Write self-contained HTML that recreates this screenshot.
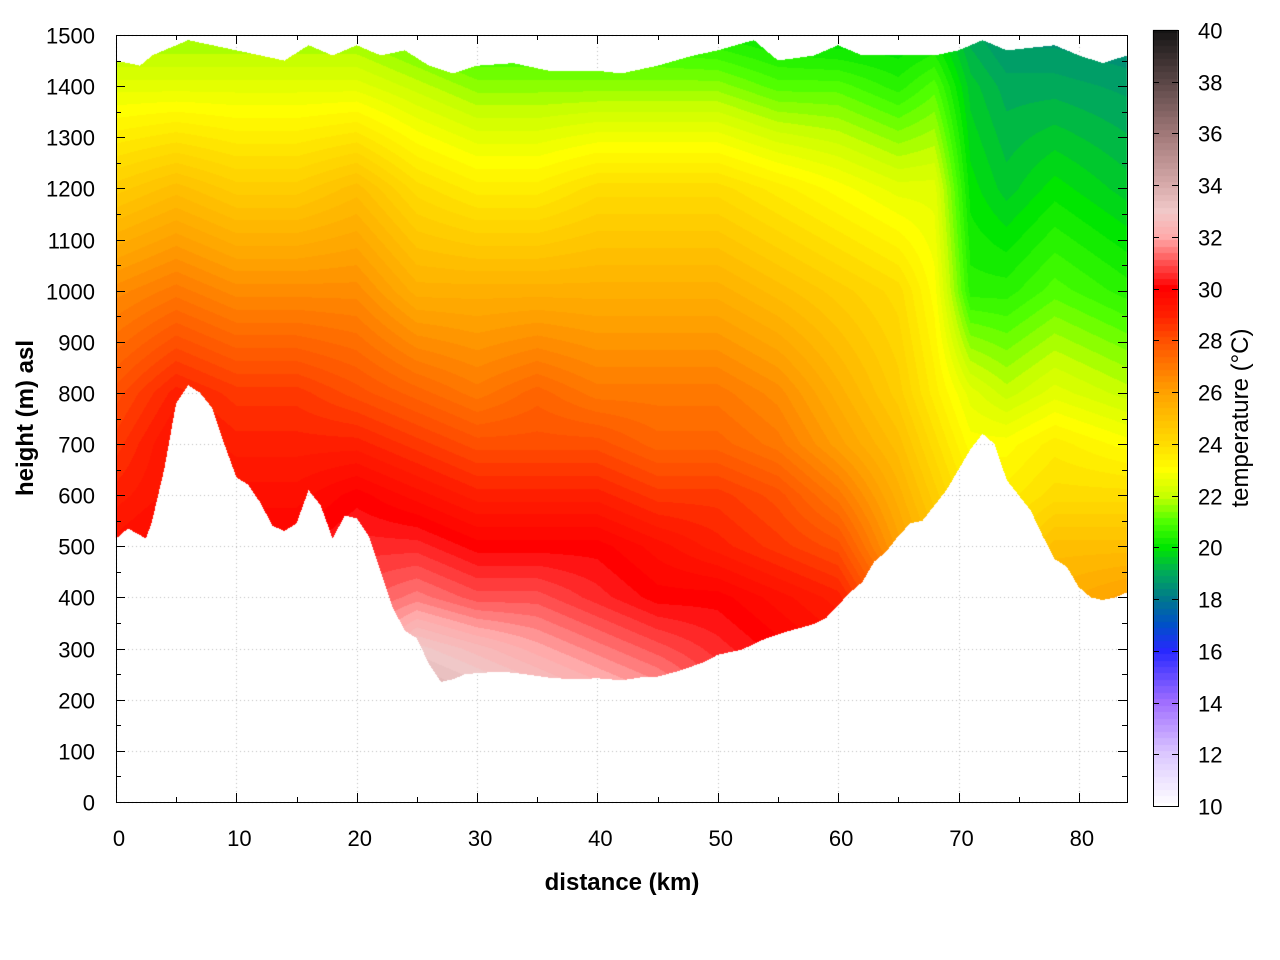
<!DOCTYPE html>
<html><head><meta charset="utf-8">
<style>
body{margin:0;background:#fff;}
#wrap{position:relative;width:1280px;height:960px;font-family:"Liberation Sans",sans-serif;}
svg text{font-family:"Liberation Sans",sans-serif;}
</style></head>
<body>
<div id="wrap">
<canvas id="cv" width="1280" height="960" style="position:absolute;left:0;top:0"></canvas>
<svg id="sv" width="1280" height="960" style="position:absolute;left:0;top:0"></svg>
</div>
<script>
// ---- data ----
const distances = [0,5,10,15,20,25,30,35,40,45,50,55,60,65,68,71,74,78,84];
const heights = [200,300,400,500,600,700,800,1000,1200,1400,1500];
const temps = [
[30,30,30,29.5,29,28.5,28,26.5,24.5,22.5,21.5],
[30,30,30,30,29.5,29.5,29,27,25,22.5,21.5],
[31,31,30.5,30,29.5,29,28.5,26.5,24.5,22.5,21.5],
[31,31,30.5,30,29.5,29,28.5,26.5,24.5,22.5,21.5],
[32,31.5,31,30.5,30,29,28,26.5,25,22.5,21.5],
[34,33,31.5,30.5,29.5,28.5,27.5,25.5,24,22,21],
[33.5,32.5,31,30,29,28,27,25.5,23.5,21.5,20.5],
[33,32,31,30,29,28,27.5,25.5,23.5,21.5,20.5],
[32.5,31.5,30.5,30,29,28,27,25.5,24,21.5,20.5],
[32,31,30,29.5,28.5,27.5,27,25.5,24,21.5,20.5],
[31,30.5,30,29,28.5,27.5,27,25.5,24,21.5,20.3],
[30,30,29.5,28.5,28,27,26.5,25,23.5,21,20],
[29.5,29.5,29,28,27,26,25.5,24.5,23,21,19.8],
[28,28,27,26,25.5,25,24.5,24,22.5,20.5,19.8],
[26,26,25.5,25,24.5,24,23.5,23,22.5,21,20],
[25,25,24.5,24,23.5,23,22.5,20.5,20,19.5,19],
[25,25,24.5,24,23.5,23,22,20.5,19.5,19,18.5],
[26,26,25.5,25,24,23.5,22.5,21,20,19,18.5],
[26.5,26.5,26,25,24,23,22,20.5,19.5,18.8,18.3]
];
const terrainD = [0,1,2.5,3,4,5,6,7,8,9,10,11,12,13,14,15,16,17,18,19,20,21,22,23,24,25,26,27,28,29,30,32,34,36,38,40,42,44,45,47,49,50,52,54,56,58,59,60,61,62,63,64,65,66,67,68,69,70,71,72,73,74,75,76,77,78,79,80,81,82,83,84];
const terrainH = [515,535,515,550,650,780,815,800,770,700,635,620,585,540,530,545,610,580,515,560,555,520,450,380,335,320,270,235,240,250,252,255,250,243,240,242,238,245,245,258,275,288,298,320,335,348,360,385,410,430,470,490,520,545,550,580,610,650,690,720,700,630,600,570,520,475,460,420,400,395,400,410];
const topD = [0,2,3,5,6,8,10,12,14,16,18,20,22,24,26,28,30,33,36,40,42,45,48,50,53,55,58,60,62,65,68,70,72,74,78,80,82,84];
const topH = [1450,1440,1460,1480,1490,1480,1470,1460,1450,1480,1460,1480,1460,1470,1440,1425,1440,1445,1430,1430,1425,1440,1460,1470,1490,1450,1460,1480,1460,1460,1460,1470,1490,1470,1480,1460,1445,1460];
const xTicks = [0,10,20,30,40,50,60,70,80];
const yTicks = [0,100,200,300,400,500,600,700,800,900,1000,1100,1200,1300,1400,1500];
const cbTicks = [10,12,14,16,18,20,22,24,26,28,30,32,34,36,38,40];
const cmapT = [10,12,14,16,17,18,19,20,21,22,23,24,25,26,27,28,29,30,31,32,33,34,36,38,40];
const cmapC = [[255,255,255],[220,200,255],[160,110,255],[40,40,255],[0,80,200],[0,120,140],[0,170,90],[0,230,0],[80,255,0],[200,255,0],[255,255,0],[255,220,0],[255,190,0],[255,160,0],[255,120,0],[255,80,0],[255,30,0],[255,0,0],[255,80,80],[255,170,170],[240,200,200],[215,170,170],[160,120,120],[90,70,70],[20,20,20]];

// ---- scales ----
const X0=116,X1=1127,Y0=802,Y1=35;
const xs=d=>X0+(d/84)*(X1-X0);
const ys=h=>Y0-(h/1500)*(Y0-Y1);
const CB={x:1153,w:25,y0:806,y1:30};
const cbs=t=>CB.y0-(t-10)/30*(CB.y0-CB.y1);

function interp1(xa,ya,x){
  if(x<=xa[0])return ya[0];
  for(let i=1;i<xa.length;i++){ if(x<=xa[i]){const f=(x-xa[i-1])/(xa[i]-xa[i-1]);return ya[i-1]+f*(ya[i]-ya[i-1]);} }
  return ya[ya.length-1];
}
function seg(a,v){ if(v<=a[0])return [0,0]; for(let i=1;i<a.length;i++) if(v<=a[i]) return [i-1,(v-a[i-1])/(a[i]-a[i-1])]; return [a.length-2,1]; }
function field(d,h){
  const [i,fi]=seg(distances,d), [j,fj]=seg(heights,Math.max(h,heights[0]));
  const a=temps[i][j]*(1-fj)+temps[i][j+1]*fj, b=temps[i+1][j]*(1-fj)+temps[i+1][j+1]*fj;
  return a*(1-fi)+b*fi;
}
function cmap(t){
  const [i,f]=seg(cmapT,t);const a=cmapC[i],b=cmapC[i+1];
  return [0,1,2].map(k=>Math.round(a[k]+f*(b[k]-a[k])));
}

const cv=document.getElementById('cv'),ctx=cv.getContext('2d');
// grid
ctx.strokeStyle='#bbb';ctx.lineWidth=1;ctx.setLineDash([1,3]);
xTicks.forEach(t=>{ctx.beginPath();ctx.moveTo(Math.round(xs(t))+.5,Y1);ctx.lineTo(Math.round(xs(t))+.5,Y0);ctx.stroke();});
yTicks.forEach(t=>{ctx.beginPath();ctx.moveTo(X0,Math.round(ys(t))+.5);ctx.lineTo(X1,Math.round(ys(t))+.5);ctx.stroke();});
ctx.setLineDash([]);
// field
const W=X1-X0,H=Y0-Y1;
const img=ctx.getImageData(X0,Y1,W,H);
for(let px=0;px<W;px++){
  const d=(px+0.5)/W*84;
  const g=interp1(terrainD,terrainH,d), tp=interp1(topD,topH,d);
  for(let py=0;py<H;py++){
    const h=(H-py-0.5)/H*1500;
    if(h<g||h>tp)continue;
    let t=field(d,h);
    t=Math.round(t*4)/4;
    const c=cmap(t),o=(py*W+px)*4;
    img.data[o]=c[0];img.data[o+1]=c[1];img.data[o+2]=c[2];img.data[o+3]=255;
  }
}
ctx.putImageData(img,X0,Y1);
// colorbar
for(let y=CB.y1;y<CB.y0;y++){const t=10+(CB.y0-y-0.5)/(CB.y0-CB.y1)*30;const c=cmap(Math.round(t*4)/4);ctx.fillStyle=`rgb(${c})`;ctx.fillRect(CB.x,y,CB.w,1);}

// axes svg
const sv=document.getElementById('sv'),NS='http://www.w3.org/2000/svg';
function mk(tag,attrs,txt){const e=document.createElementNS(NS,tag);for(const k in attrs)e.setAttribute(k,attrs[k]);if(txt!==undefined)e.textContent=txt;sv.appendChild(e);return e;}
let e=mk('rect',{x:X0+.5,y:Y1+.5,width:W,height:H,fill:'none',stroke:'#000'});


xTicks.forEach(t=>{const x=Math.round(xs(t))+.5;
  mk('line',{x1:x,x2:x,y1:Y0,y2:Y0-9,stroke:'#000'});mk('line',{x1:x,x2:x,y1:Y1,y2:Y1+9,stroke:'#000'});
  const m=Math.round(xs(t+5))+.5; if(t+5<84){mk('line',{x1:m,x2:m,y1:Y0,y2:Y0-5,stroke:'#000'});mk('line',{x1:m,x2:m,y1:Y1,y2:Y1+5,stroke:'#000'});}
  const l=mk('text',{x:xs(t)+3,y:846,'font-size':22,'text-anchor':'middle'},t);
  
  
});
yTicks.forEach(t=>{const y=Math.round(ys(t))+.5;
  mk('line',{x1:X0,x2:X0+9,y1:y,y2:y,stroke:'#000'});mk('line',{x1:X1,x2:X1-9,y1:y,y2:y,stroke:'#000'});
  if(t<1500){const m=Math.round(ys(t+50))+.5;mk('line',{x1:X0,x2:X0+5,y1:m,y2:m,stroke:'#000'});mk('line',{x1:X1,x2:X1-5,y1:m,y2:m,stroke:'#000'});}
  const l=mk('text',{x:95,y:y+8,'font-size':22,'text-anchor':'end'},t);
  
  
});
e=mk('rect',{x:CB.x+.5,y:CB.y1+.5,width:CB.w,height:CB.y0-CB.y1,fill:'none',stroke:'#000'});


cbTicks.forEach(t=>{const y=Math.round(cbs(t))+.5;
  mk('line',{x1:CB.x,x2:CB.x+6,y1:y,y2:y,stroke:'#000'});mk('line',{x1:CB.x+CB.w,x2:CB.x+CB.w-6,y1:y,y2:y,stroke:'#000'});
  const l=mk('text',{x:1198,y:y+8,'font-size':22},t);
  
  
});
e=mk('text',{x:622,y:890,'font-size':24,'font-weight':'bold','text-anchor':'middle'},'distance (km)');


e=mk('text',{x:0,y:0,'font-size':24,'font-weight':'bold','text-anchor':'middle',transform:'translate(33,418) rotate(-90)'},'height (m) asl');


e=mk('text',{x:0,y:0,'font-size':24,'text-anchor':'middle',transform:'translate(1248,418) rotate(-90)'},'temperature (°C)');


</script>
</body></html>
